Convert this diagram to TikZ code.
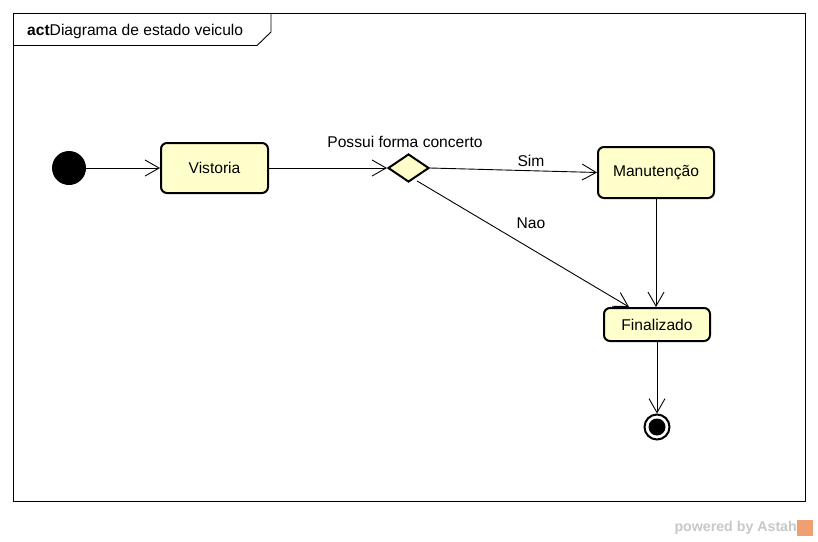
\documentclass[tikz,border=0pt]{standalone}
\usepackage{fontspec}
\setmainfont{Liberation Sans}
\usetikzlibrary{arrows.meta,shapes.geometric,calc}
\definecolor{stfill}{HTML}{FFFFCC}
\definecolor{wm}{HTML}{C8C8C8}
\definecolor{astahor}{HTML}{F0A070}
\tikzset{
  stbox/.style={draw=black,line width=2pt,fill=stfill,rounded corners=6pt,inner sep=0pt,font=\fontsize{15.6}{17}\selectfont},
  conn/.style={line width=0.9pt,-{Straight Barb[length=14pt,width=16pt,line width=0.9pt]}},
  lbl/.style={font=\fontsize{15.6}{17}\selectfont,inner sep=0pt}
}
\begin{document}
\begin{tikzpicture}[x=1pt,y=-1pt]
\useasboundingbox (0,0) rectangle (818,541);
\fill[white] (0,0) rectangle (818,541);
% frame
\draw[line width=0.9pt] (13,13) rectangle (805,501);
\draw[line width=0.9pt] (13,45.5) -- (257,45.5) -- (271,32) -- (271,13);
\node[lbl,anchor=west] (title) at (27,31) {\textbf{act}Diagrama de estado veiculo};
% nodes
\node[circle,fill=black,minimum size=34pt,inner sep=0pt] (init) at (69,168) {};
\node[stbox,minimum width=107pt,minimum height=50pt] (vis) at (214.5,168) {Vistoria};
\node[diamond,draw=black,line width=2pt,fill=stfill,inner sep=0pt,minimum width=41pt,minimum height=28pt] (dec) at (408.5,168) {};
\node[stbox,minimum width=116pt,minimum height=51pt] (man) at (656,172.5) {Manutenção};
\node[stbox,minimum width=106pt,minimum height=33pt] (fin) at (657,324.5) {Finalizado};
\node[circle,draw=black,line width=2pt,fill=white,minimum size=25pt,inner sep=0pt] (final) at (657,427) {};
\node[circle,fill=black,minimum size=17pt,inner sep=0pt] (finalin) at (final.center) {};
% labels
\node[lbl] (lpos) at (405,142) {Possui forma concerto};
\node[lbl] (lsim) at (531,161) {Sim};
\node[lbl] (lnao) at (531,223) {Nao};
% connectors
\draw[conn] (init.east) -- (vis.west);
\draw[conn] (vis.east) -- (dec.west);
\draw[conn] (dec.east) -- (man.west);
\coordinate (ds) at ($(dec.south)!0.4!(dec.east)+(0,4)$);
\coordinate (fe) at ($(fin.north west)+(26,0)$);
\draw[conn] (ds) -- (fe);
\draw[conn] (man.south) -- (man.south |- fin.north);
\draw[conn] (fin.south) -- (final.north);
% watermark
\node[anchor=east,text=wm,font=\bfseries\fontsize{14.2}{16}\selectfont,inner sep=0pt] (wmtext) at (797,528) {powered by Astah};
\fill[astahor] (797,520) rectangle (813,536);
\end{tikzpicture}
\end{document}
